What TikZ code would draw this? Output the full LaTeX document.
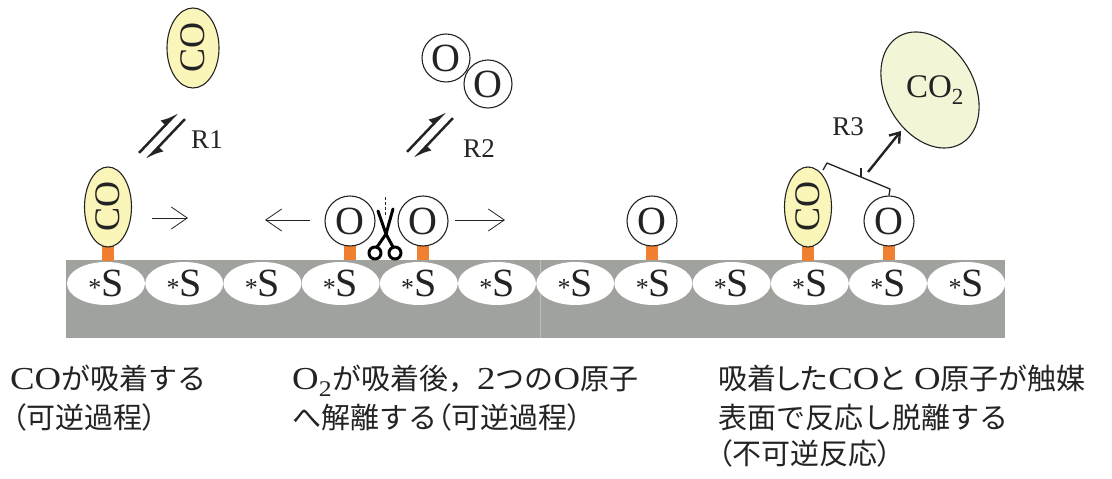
\documentclass[tikz,border=0pt]{standalone}
\usepackage{fontspec}
\setmainfont{Liberation Serif}
\newfontfamily\jpfont{Noto Sans CJK JP}
\newfontfamily\jppfont[RawFeature=+palt]{Noto Sans CJK JP}
\newfontfamily\caplatin[FakeStretch=1.15]{Liberation Serif}
\usetikzlibrary{shapes.geometric,arrows.meta}

\definecolor{slabgray}{RGB}{160,162,158}
\definecolor{coyellow}{RGB}{250,245,185}
\definecolor{cotwofill}{RGB}{243,245,215}
\definecolor{bondorange}{RGB}{240,128,48}
\definecolor{ink}{RGB}{35,35,35}

% caption text helpers: Latin parts, Japanese parts, Japanese with proportional kana
\newcommand\capLat[1]{{\caplatin\fontsize{32}{38}\selectfont #1}}
\newcommand\capJa[1]{{\jpfont\fontsize{29}{38}\selectfont #1}}
\newcommand\capJaP[1]{{\jppfont\fontsize{29}{38}\selectfont #1}}
\newcommand\sitelabel{{\fontsize{26}{26}\selectfont *}S}

\begin{document}
\begin{tikzpicture}[x=1pt,y=1pt,
  site/.style={ellipse, fill=white, minimum width=78, minimum height=43,
    inner sep=0, text=ink, font=\fontsize{40}{40}\selectfont},
  comol/.style={ellipse, draw=ink, line width=1.1, fill=coyellow,
    minimum width=47, minimum height=80, inner sep=0, text=ink,
    font=\fontsize{36}{36}\selectfont},
  omol/.style={circle, draw=ink, line width=1.1, fill=white,
    minimum size=50, inner sep=0, text=ink, font=\fontsize{40}{40}\selectfont},
  stub/.style={draw=bondorange, line width=12},
  drift/.style={draw=ink, line width=0.8,
    -{Straight Barb[length=16pt,width=22pt,line width=0.8pt]}},
  harpoon/.style={draw=ink, line width=2.5,
    -{Latex[left,length=14pt,width=14pt]}},
  rlabel/.style={text=ink, font=\fontsize{27}{27}\selectfont, inner sep=0},
  caption/.style={anchor=base west, inner sep=0, text=ink}
]
\useasboundingbox (0,0) rectangle (1112,479);

% catalyst slab with its adsorption sites
\fill[slabgray] (66,141) rectangle (1005,219);
\draw[white!30!slabgray, line width=1] (540,141) -- (540,219);
\foreach \i in {1,...,12}
  \node[site] (s\i) at ({106+78.2*(\i-1)},195.5) {\sitelabel};

% adsorbed molecules: positions first, bonds under the shapes
\coordinate (co1) at (108,272);
\coordinate (o1) at (350,258);
\coordinate (o2) at (423,258);
\coordinate (o3) at (652,258);
\coordinate (co3) at (808,272);
\coordinate (o4) at (889,258);
\foreach \p/\d in {co1/40,o1/25,o2/25,o3/25,co3/40,o4/25}
  \draw[stub] ([yshift=-\d+1]\p) -- ([yshift=-\d-14]\p);
\node[comol] (mco1) at (co1) {\rotatebox{90}{CO}};
\node[omol] (mo1) at (o1) {O};
\node[omol] (mo2) at (o2) {O};
\node[omol] (mo3) at (o3) {O};
\node[comol] (mco3) at (co3) {\rotatebox{90}{CO}};
\node[omol] (mo4) at (o4) {O};

% gas phase molecules
\node[comol, minimum width=52] (co0) at (193,431) {\rotatebox{90}{CO}};
\node[omol, minimum size=48] (oa) at (446,421) {O};
\node[omol, minimum size=48] (ob) at (488,395) {O};
\node[ellipse, draw=ink, line width=1.1, fill=cotwofill, minimum width=88,
  minimum height=124, rotate=30] (co2) at (930,389) {};
\node[text=ink, font=\fontsize{33}{33}\selectfont, inner sep=0] (co2t)
  at (935,389) {CO\textsubscript{2}};

% R1: CO adsorption equilibrium
\begin{scope}[shift={(162,343)}, rotate=46.5]
  \coordinate (r1fa) at (-28,5);  \coordinate (r1fb) at (28,5);
  \coordinate (r1ba) at (28,-5);  \coordinate (r1bb) at (-28,-5);
\end{scope}
\draw[harpoon] (r1fa) -- (r1fb);
\draw[harpoon] (r1ba) -- (r1bb);
\node[rlabel] (r1) at (207,339) {R1};

% R2: O2 dissociative adsorption equilibrium
\begin{scope}[shift={(430,344)}, rotate=46.5]
  \coordinate (r2fa) at (-28,5);  \coordinate (r2fb) at (28,5);
  \coordinate (r2ba) at (28,-5);  \coordinate (r2bb) at (-28,-5);
\end{scope}
\draw[harpoon] (r2fa) -- (r2fb);
\draw[harpoon] (r2ba) -- (r2bb);
\node[rlabel] (r2) at (479,330) {R2};

% surface migration arrows
\coordinate (m1a) at (152,261); \coordinate (m1b) at (188,261);
\coordinate (m2a) at (310,259); \coordinate (m2b) at (265,259);
\coordinate (m3a) at (455,259); \coordinate (m3b) at (505,259);
\draw[drift] (m1a) -- (m1b);
\draw[drift] (m2a) -- (m2b);
\draw[drift] (m3a) -- (m3b);

% O--O bond cut
\draw[ink, line width=1, dash pattern=on 3pt off 2pt] (385,282) -- (385,262);
\begin{scope}[black, line width=3, line cap=round, line join=round]
  \draw (378,268) -- (386,245) -- (393,232);
  \draw (393,270) -- (386,245) -- (377,232);
  \draw (375,226) circle[radius=6];
  \draw (395,226) circle[radius=6];
\end{scope}

% R3: surface reaction and CO2 desorption
\coordinate (bk0) at (823,309);
\coordinate (bk1) at (827,316);
\coordinate (bk2) at (890,290);
\draw[ink, line width=1.3, line join=round] (bk0) -- (bk1) -- (bk2) -- (mo4.north);
\coordinate (tk0) at (861,302); \coordinate (tk1) at (861,311);
\draw[ink, line width=1.3] (tk0) -- (tk1);
\coordinate (r3s) at (868,307); \coordinate (r3e) at (901,348);
\draw[ink, line width=2.4, -{Straight Barb[length=9pt,width=13pt]}] (r3s) -- (r3e);
\node[rlabel] (r3) at (848,352) {R3};

% captions
\node[caption] (capa1) at (10,89) {\capLat{CO}\capJa{が吸着する}};
\node[caption] (capa2) at (12,50) {\capJaP{（}\capJa{可逆過程}\capJaP{）}};
\node[caption] (capb1) at (292,89)
  {\capLat{O\textsubscript{2}}\capJa{が吸着後，}\capLat{2}\capJa{つの}\capLat{O}\capJa{原子}};
\node[caption] (capb2) at (292,50)
  {\capJa{へ解離する}\capJaP{（}\capJa{可逆過程}\capJaP{）}};
\node[caption] (capc1) at (718,89)
  {\capJaP{吸着した}\capLat{CO}\capJaP{と}\capLat{\ O}\capJaP{原子が触媒}};
\node[caption] (capc2) at (718,50) {\capJa{表面で反応し脱離する}};
\node[caption] (capc3) at (718,14) {\capJaP{（}\capJa{不可逆反応}\capJaP{）}};
\end{tikzpicture}
\end{document}
